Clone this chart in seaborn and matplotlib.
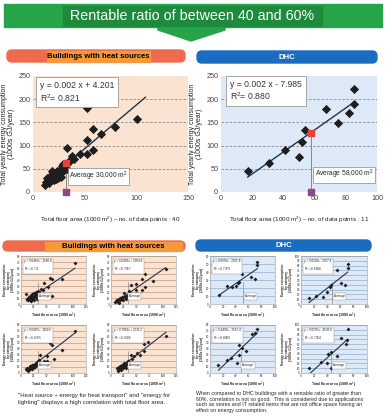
"""Rentable ratio 40-60%: floor area vs energy use, heat-source buildings vs DHC."""

import matplotlib
matplotlib.use("Agg")
import matplotlib.pyplot as plt
from matplotlib.patches import FancyBboxPatch, Rectangle, Polygon
import numpy as np
import pandas as pd
import seaborn as sns

W, H = 388, 418

# ---- main panels -------------------------------------------------------------
heat_area = [101, 79, 66, 58, 52, 58, 52, 45, 52, 33, 38,
             12, 13, 14, 16, 17, 18, 19, 20, 21, 22, 23, 24, 25, 26,
             27, 28, 29, 30, 31, 35, 36, 40, 15, 20, 27, 29, 24, 18, 33]
heat_energy = [157, 140, 125, 135, 113, 90, 82, 82, 180, 95, 78,
               15, 22, 30, 32, 27, 38, 35, 42, 30, 28, 45, 38, 35, 48,
               40, 55, 45, 52, 58, 65, 70, 72, 20, 25, 32, 60, 30, 45, 50]
heat_avg = (32, 62)

dhc_area = [17, 31, 41, 50, 52, 54, 67, 75, 82, 85, 85]
dhc_energy = [45, 62, 90, 76, 107, 133, 178, 148, 171, 189, 222]
dhc_avg = (58, 128)

main_panels = [
    dict(x=heat_area, y=heat_energy, avg=heat_avg, xlim=150, bg="#fbe3d2",
         eq="y = 0.002 x + 4.201\nR$^2$= 0.821", avg_txt="Average 30,000 m$^2$",
         n=40, rect=(33, 76, 188, 192), eqbox=(4, 187), avgbox=(35, 33)),
    dict(x=dhc_area, y=dhc_energy, avg=dhc_avg, xlim=100, bg="#dde9f6",
         eq="y = 0.002 x - 7.985\nR$^2$= 0.880", avg_txt="Average 58,000 m$^2$",
         n=11, rect=(221, 76, 377, 192), eqbox=(3, 190), avgbox=(60, 37)),
]

# ---- small panels (energy breakdown) -----------------------------------------
small_panels = [
    # buildings with heat sources
    dict(x=[104, 78, 56, 59, 44, 52, 43, 50, 59, 10, 12, 13, 14, 15, 16, 17, 18, 19, 20, 21,
            22, 23, 24, 25, 26, 27, 28, 29, 30, 31, 33, 35, 25, 20, 38, 30, 36],
         y=[69, 41, 44, 42, 35, 29, 23, 15, 14, 17, 8, 10, 6, 12, 9, 14, 7, 11, 13, 9,
            16, 12, 10, 18, 14, 11, 17, 20, 15, 13, 22, 18, 6, 5, 25, 9, 12],
         eq="y = 0.0469x - 1580.8\nR$^2$ = 0.741", xlim=125, ylim=80, side="heat",
         rect=(21, 256, 86, 304), avg=32),
    dict(x=[105, 51, 66, 81, 49, 59, 39, 66, 49, 59, 35, 25, 8, 10, 12, 14, 15, 17, 18, 20,
            21, 22, 24, 26, 28, 30, 32, 34, 36, 38, 40, 16, 23, 29, 11],
         y=[58, 54, 50, 38, 34, 41, 32, 29, 23, 23, 21, 18, 3, 5, 6, 4, 8, 7, 10, 9,
            12, 8, 11, 13, 10, 14, 12, 15, 11, 16, 14, 2, 6, 9, 7],
         eq="y = 0.0409x + 1054.6\nR$^2$ = 0.7867", xlim=125, ylim=80, side="heat",
         rect=(111, 256, 176, 304), avg=32),
    dict(x=[104, 53, 56, 59, 79, 36, 44, 50, 64, 50, 10, 12, 13, 15, 16, 18, 19, 20, 21, 22,
            23, 24, 25, 26, 27, 28, 29, 30, 32, 34, 14, 17, 22, 27, 31],
         y=[70, 53, 50, 46, 39, 30, 20, 20, 24, 28, 6, 8, 5, 9, 7, 11, 8, 12, 10, 13,
            9, 14, 11, 15, 12, 16, 13, 18, 20, 22, 4, 6, 7, 10, 14],
         eq="y = 0.0497x - 1119.6\nR$^2$ = 0.8795", xlim=125, ylim=80, side="heat",
         rect=(21, 325, 86, 373), avg=32),
    dict(x=[106, 63, 72, 50, 56, 44, 63, 40, 38, 12, 13, 15, 16, 17, 18, 20, 21, 22, 23, 24,
            25, 26, 27, 28, 30, 31, 33, 35, 14, 19, 24, 29],
         y=[62, 48, 52, 34, 30, 28, 36, 24, 30, 8, 6, 10, 7, 12, 9, 11, 14, 10, 13, 12,
            16, 11, 15, 14, 18, 17, 20, 19, 4, 5, 8, 9],
         eq="y = 0.7081x + 2011.2\nR$^2$ = 0.8386", xlim=125, ylim=80, side="heat",
         rect=(111, 325, 176, 373), avg=32),
    # DHC
    dict(x=[14, 26, 34, 40, 43, 50, 63, 69, 73, 73, 45],
         y=[11, 22, 21, 22, 26, 38, 34, 31, 52, 49, 28],
         eq="y = 0.0038x - 2005.8\nR$^2$ = 0.7479", xlim=100, ylim=60, side="dhc",
         rect=(210, 256, 275, 304), avg=51),
    dict(x=[12, 23, 33, 40, 44, 46, 54, 61, 67, 71, 71],
         y=[12, 16, 14, 25, 36, 39, 71, 43, 39, 84, 75],
         eq="y = 0.0128x - 2067.8\nR$^2$ = 0.6648", xlim=100, ylim=100, side="dhc",
         rect=(301, 256, 367, 304), avg=47),
    dict(x=[13, 26, 32, 41, 44, 45, 50, 56, 64, 70, 73],
         y=[13, 21, 25, 17, 30, 47, 42, 36, 65, 67, 74],
         eq="y = 0.4403x - 2567.4\nR$^2$ = 0.8099", xlim=100, ylim=80, side="dhc",
         rect=(210, 325, 275, 373), avg=47),
    dict(x=[12, 31, 40, 41, 45, 46, 54, 61, 68, 69, 71],
         y=[11, 23, 20, 39, 44, 10, 36, 72, 60, 69, 91],
         eq="y = 0.0135x - 4543.8\nR$^2$ = 0.7504", xlim=100, ylim=100, side="dhc",
         rect=(301, 325, 367, 373), avg=46),
]

title = "Rentable ratio of between 40 and 60%"
heat_header = "Buildings with heat sources"
dhc_header = "DHC"
ylabel_main = "Total yearly energy consumption\n(1000s GJ/year)"
xlabel_main = "Total floor area (1000 m$^2$) \u2013 no. of data points : {}"
ylabel_small = "Energy consumption\nby category\n(1000s GJ/year)"
xlabel_small = "Total floor area (1000 m$^2$)"
note_heat = ("\"Heat source + energy for heat transport\" and \"energy for\n"
             "lighting\" displays a high correlation with total floor area.")
note_dhc = ("When compared to DHC buildings with a rentable ratio of greater than\n"
            "60%, correlation is not so good.  This is considered due to applications\n"
            "such as stores and IT related items that are not office space having an\n"
            "effect on energy consumption.")

GREEN, GREEN_DARK = "#27a449", "#1d8a3c"
SALMON, ORANGE = "#ee6b4f", "#f59a3c"
BLUE = "#1a6cc0"
HEAT_BG, DHC_BG = "#fbe3d2", "#dde9f6"
MARK = "#1e1e1e"

sns.set_theme(style="white")
plt.rcParams["font.family"] = ["Liberation Sans", "DejaVu Sans"]
plt.rcParams["mathtext.fontset"] = "custom"
plt.rcParams["mathtext.rm"] = "Liberation Sans"


def px_axes(fig, rect):
    x0, y0, x1, y1 = rect
    return fig.add_axes([x0 / W, 1 - y1 / H, (x1 - x0) / W, (y1 - y0) / H])


def fit_line(ax, xs, ys, lw, stretch=0):
    slope, icpt = np.polyfit(xs, ys, 1)
    xs_line = np.array([min(xs), max(xs) + stretch])
    sns.lineplot(x=xs_line, y=slope * xs_line + icpt, ax=ax, color="#1f3550",
                 lw=lw, zorder=3)


fig = plt.figure(figsize=(W / 100, H / 100), dpi=100)
fig.patch.set_facecolor("white")

bg = fig.add_axes([0, 0, 1, 1])
bg.set_xlim(0, W)
bg.set_ylim(H, 0)
bg.axis("off")

# banner and arrow
bg.add_patch(Rectangle((4, 4), 378, 23, color=GREEN))
bg.add_patch(Rectangle((63, 6), 259, 20, color=GREEN_DARK))
bg.text(192, 16, title, ha="center", va="center", color="white", fontsize=10.3)
bg.add_patch(Polygon([(158, 28), (225, 28), (225, 30), (191, 41), (158, 30)],
                     closed=True, color=GREEN))


def header(x0, y0, x1, y1, color, label, inner=None):
    bg.add_patch(FancyBboxPatch((x0, y0), x1 - x0, y1 - y0,
                                boxstyle="round,pad=0,rounding_size=5",
                                color=color, mutation_aspect=1))
    if inner:
        bg.add_patch(Rectangle((inner[0], y0 + 0.5), inner[1] - inner[0],
                               y1 - y0 - 1, color=ORANGE))
    bg.text((x0 + x1) / 2 if not inner else (inner[0] + inner[1]) / 2,
            (y0 + y1) / 2 + 0.3, label, ha="center", va="center",
            color="black" if inner else "white", fontsize=5.6, fontweight="bold")


header(7, 50, 185, 62, SALMON, heat_header, inner=(47, 150))
header(197, 51, 377, 63, BLUE, dhc_header)
header(3, 241, 185, 251, SALMON, heat_header, inner=(45, 182))
header(196, 240, 371, 251, BLUE, dhc_header)

# main scatter panels
for p in main_panels:
    ax = px_axes(fig, p["rect"])
    ax.set_facecolor(p["bg"])
    df = pd.DataFrame({"area": p["x"], "energy": p["y"]})
    ax.set_xlim(0, p["xlim"])
    ax.set_ylim(0, 250)
    for yv in range(50, 250, 50):
        ax.axhline(yv, color="#8a8a8a", lw=0.6, ls=(0, (3, 2)), zorder=1)
    fit_line(ax, p["x"], p["y"], 1.0, stretch=8 if p["xlim"] > 100 else 0)
    sns.scatterplot(data=df, x="area", y="energy", ax=ax, marker="D", s=22,
                    color=MARK, edgecolor=MARK, linewidth=0, zorder=4, legend=False)
    ax_x, ax_y = p["avg"]
    ax.plot([ax_x, ax_x], [0, ax_y], color="#777777", lw=0.6, zorder=2)
    ax.scatter([ax_x], [ax_y], marker="s", s=24, color="#e8403a", zorder=5)
    ax.scatter([ax_x], [0], marker="s", s=24, color="#8a4a86", zorder=5, clip_on=False)
    ax.text(p["avgbox"][0], p["avgbox"][1], p["avg_txt"], fontsize=4.8,
            va="center", ha="left", zorder=6,
            bbox=dict(boxstyle="square,pad=0.25", fc="white", ec="#888888", lw=0.5))
    ax.text(p["eqbox"][0] + 3, p["eqbox"][1] + 28, p["eq"], fontsize=6.2,
            va="center", ha="left", color="#333333", zorder=6, linespacing=1.2,
            bbox=dict(boxstyle="square,pad=0.45", fc="white", ec="#999999", lw=0.6))
    ax.set_xticks(np.arange(0, p["xlim"] + 1, 50 if p["xlim"] > 100 else 20))
    ax.set_yticks(range(0, 251, 50))
    ax.tick_params(labelsize=5.2, colors="#444444", length=0, pad=2)
    for s in ax.spines.values():
        s.set_visible(False)
    ax.set_xlabel(xlabel_main.format(p["n"]), fontsize=4.5, labelpad=9, color="#222222")
    ax.set_ylabel(ylabel_main, fontsize=5.0, labelpad=2, color="#222222", linespacing=1.0)

# small panels
for p in small_panels:
    ax = px_axes(fig, p["rect"])
    heat = p["side"] == "heat"
    ax.set_facecolor(HEAT_BG if heat else DHC_BG)
    ax.set_xlim(0, p["xlim"])
    ax.set_ylim(0, p["ylim"])
    ax.set_yticks(range(0, p["ylim"] + 1, 10))
    ax.set_xticks(np.arange(0, p["xlim"] + 1, 25 if heat else 20))
    ax.grid(axis="y", color="#b38870" if heat else "#7f9fc4", lw=0.4)
    ax.grid(axis="x", visible=False)
    fit_line(ax, p["x"], p["y"], 0.8)
    sns.scatterplot(x=p["x"], y=p["y"], ax=ax, marker="D", s=4, color=MARK,
                    linewidth=0, zorder=4, legend=False)
    ax.axvline(p["avg"], color="#777777", lw=0.4, ymax=0.45, zorder=2)
    ax.text(0.05, 0.93, p["eq"], transform=ax.transAxes, fontsize=2.2, va="top",
            ha="left", zorder=6, linespacing=1.3,
            bbox=dict(boxstyle="square,pad=0.5", fc="white", ec="#888888", lw=0.3))
    ax.text(p["avg"] + 3, p["ylim"] * 0.16, "Average", fontsize=2.2, va="center",
            ha="left", zorder=6,
            bbox=dict(boxstyle="square,pad=0.4", fc="white", ec="#888888", lw=0.3))
    ax.tick_params(labelsize=2.2, colors="#222222", length=0, pad=0.8)
    for s in ax.spines.values():
        s.set_color("#999999")
        s.set_linewidth(0.4)
    ax.set_xlabel(xlabel_small, fontsize=2.6, labelpad=0.8, fontweight="bold")
    ax.set_ylabel(ylabel_small, fontsize=2.3, labelpad=1.2, fontweight="bold",
                  linespacing=1.0)

bg.text(18, 399, note_heat, fontsize=4.3, va="center", ha="left", linespacing=1.5)
bg.text(196, 402, note_dhc, fontsize=3.75, va="center", ha="left", linespacing=1.1)

fig.savefig("out.png", dpi=100)
